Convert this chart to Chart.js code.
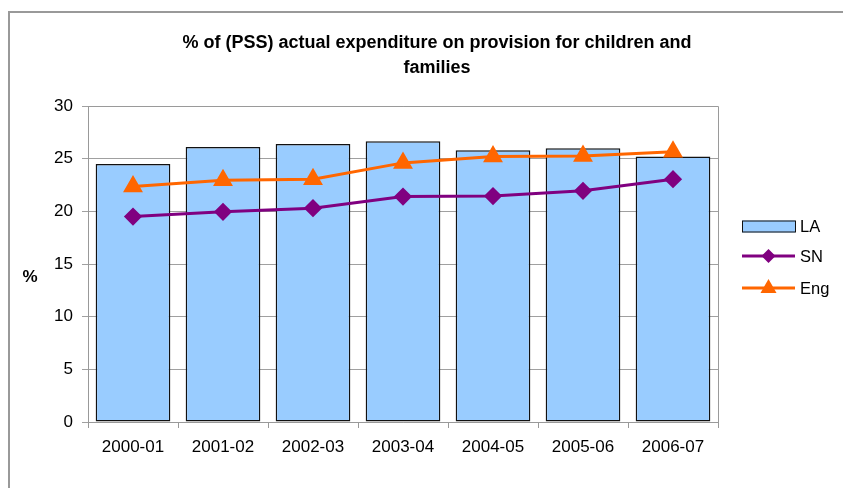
<!DOCTYPE html>
<html lang="en">
<head>
<meta charset="UTF-8">
<title>PSS expenditure</title>
<script src="https://cdn.jsdelivr.net/npm/chart.js"></script>
<style>
  body { margin: 0; background: #fff; overflow: hidden; }
  #grafico { display: block; }
</style>
</head>
<body>
<canvas id="grafico" width="843" height="488"></canvas>
<script>
// dados
const anos = ['2000-01', '2001-02', '2002-03', '2003-04', '2004-05', '2005-06', '2006-07'];
const valoresLA = [24.5, 26.1, 26.4, 26.65, 25.8, 26.0, 25.2];
const valoresSN = [19.5, 19.95, 20.3, 21.4, 21.45, 21.95, 23.05];
const valoresEng = [22.35, 22.95, 23.05, 24.6, 25.2, 25.25, 25.65];
const ticksY = [0, 5, 10, 15, 20, 25, 30];
const titulo = ['% of (PSS) actual expenditure on provision for children and', 'families'];

const fonte = "'Liberation Sans', Arial, sans-serif";

// moldura, titulo, rotulo "%" e legenda desenhados a mao
const extras = {
  id: 'extras',
  afterDraw(chart) {
    const ctx = chart.ctx;
    const area = chart.chartArea;
    ctx.save();

    // moldura externa
    ctx.strokeStyle = '#999999';
    ctx.lineWidth = 2;
    ctx.strokeRect(9, 12, 900, 600);

    // contorno da area de plotagem
    ctx.lineWidth = 1;
    ctx.strokeStyle = '#9a9a9a';
    ctx.beginPath();
    ctx.moveTo(area.left, area.top + 0.5);
    ctx.lineTo(area.right + 0.5, area.top + 0.5);
    ctx.lineTo(area.right + 0.5, area.bottom);
    ctx.stroke();

    // titulo
    ctx.fillStyle = '#000';
    ctx.textAlign = 'center';
    ctx.textBaseline = 'alphabetic';
    ctx.font = 'bold 18px ' + fonte;
    ctx.fillText(titulo[0], 437, 48);
    ctx.fillText(titulo[1], 437, 73);

    // rotulo do eixo y
    ctx.font = 'bold 17px ' + fonte;
    ctx.textBaseline = 'middle';
    ctx.fillText('%', 30, 277);

    // legenda
    const ds = chart.data.datasets;
    const x0 = 742, x1 = 795;
    const ys = [226.5, 256, 288];
    ctx.font = '16.5px ' + fonte;
    ctx.textAlign = 'left';
    ds.forEach((d, i) => {
      const y = ys[i];
      if (d.type === 'bar') {
        ctx.fillStyle = d.backgroundColor;
        ctx.fillRect(x0, y - 6, x1 - x0, 12);
        ctx.strokeStyle = d.borderColor;
        ctx.lineWidth = 1;
        ctx.strokeRect(x0 + 0.5, y - 5.5, x1 - x0, 11);
      } else {
        ctx.strokeStyle = d.borderColor;
        ctx.lineWidth = 3;
        ctx.beginPath();
        ctx.moveTo(x0, y);
        ctx.lineTo(x1, y);
        ctx.stroke();
        const cx = (x0 + x1) / 2;
        ctx.fillStyle = d.pointBackgroundColor;
        ctx.beginPath();
        if (d.pointStyle === 'rectRot') {
          const r = 7;
          ctx.moveTo(cx, y - r);
          ctx.lineTo(cx + r, y);
          ctx.lineTo(cx, y + r);
          ctx.lineTo(cx - r, y);
        } else {
          ctx.moveTo(cx, y - 9);
          ctx.lineTo(cx + 8, y + 5);
          ctx.lineTo(cx - 8, y + 5);
        }
        ctx.closePath();
        ctx.fill();
      }
      ctx.fillStyle = '#000';
      ctx.fillText(d.label, 800, y + 1);
    });
    ctx.restore();
  }
};

new Chart(document.getElementById('grafico'), {
  data: {
    labels: anos,
    datasets: [
      {
        type: 'bar',
        label: 'LA',
        data: valoresLA,
        backgroundColor: '#99ccff',
        borderColor: '#111111',
        borderWidth: 1.5,
        borderSkipped: false,
        categoryPercentage: 1,
        barPercentage: 0.83,
        order: 2
      },
      {
        type: 'line',
        label: 'SN',
        data: valoresSN,
        borderColor: '#800080',
        backgroundColor: '#800080',
        pointBackgroundColor: '#800080',
        pointBorderColor: '#800080',
        pointStyle: 'rectRot',
        pointRadius: 7,
        borderWidth: 3,
        tension: 0,
        order: 1
      },
      {
        type: 'line',
        label: 'Eng',
        data: valoresEng,
        borderColor: '#ff6600',
        backgroundColor: '#ff6600',
        pointBackgroundColor: '#ff6600',
        pointBorderColor: '#ff6600',
        pointStyle: 'triangle',
        pointRadius: 8.5,
        borderWidth: 3,
        tension: 0,
        order: 0
      }
    ]
  },
  options: {
    responsive: false,
    animation: false,
    devicePixelRatio: 1,
    layout: { padding: { top: 106, right: 125, bottom: 0, left: 0 } },
    plugins: {
      legend: { display: false },
      title: { display: false },
      tooltip: { enabled: false }
    },
    scales: {
      x: {
        offset: true,
        afterFit: (s) => { s.height = 66; },
        grid: {
          offset: true,
          drawOnChartArea: false,
          tickLength: 6,
          color: '#999999'
        },
        border: { color: '#999999' },
        ticks: {
          color: '#000',
          font: { family: fonte, size: 17 },
          padding: 9,
          maxRotation: 0
        }
      },
      y: {
        min: 0,
        max: 30,
        afterFit: (s) => { s.width = 88; },
        afterBuildTicks: (s) => { s.ticks = ticksY.map(v => ({ value: v })); },
        grid: {
          color: '#a0a0a0',
          tickLength: 6,
          drawTicks: true
        },
        border: { color: '#999999' },
        ticks: {
          color: '#000',
          font: { family: fonte, size: 17 },
          padding: 9
        }
      }
    }
  },
  plugins: [extras]
});
</script>
</body>
</html>
